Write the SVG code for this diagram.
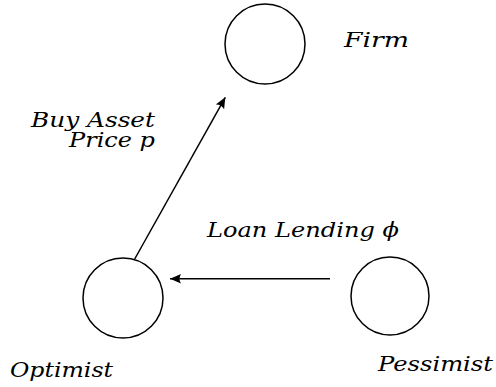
<svg xmlns="http://www.w3.org/2000/svg" width="496" height="387" viewBox="0 0 496 387">
<defs>
<marker id="arr" markerUnits="userSpaceOnUse" markerWidth="14" markerHeight="12" viewBox="-12 -6 14 12" refX="0" refY="0" orient="auto">
<path d="M0,0 L-11,-4.8 Q-8,0 -11,4.8 Z" fill="#000"/>
</marker>
</defs>
<rect width="496" height="387" fill="#fff"/>
<g font-family="DejaVu Serif, serif" font-style="italic" font-size="21" fill="#000">
<g id="firm">
<circle cx="265" cy="44" r="40" fill="none" stroke="#000" stroke-width="1.5"/>
<text x="344" y="47" textLength="65" lengthAdjust="spacingAndGlyphs">Firm</text>
</g>
<g id="optimist">
<circle cx="123" cy="298" r="40" fill="none" stroke="#000" stroke-width="1.5"/>
<text x="10" y="376.5" textLength="103" lengthAdjust="spacingAndGlyphs">Optimist</text>
</g>
<g id="pessimist">
<circle cx="390" cy="296" r="39" fill="none" stroke="#000" stroke-width="1.5"/>
<text x="378" y="371" textLength="115" lengthAdjust="spacingAndGlyphs">Pessimist</text>
</g>
<g id="connectors">
<line x1="134.7" y1="259" x2="225.3" y2="97.3" stroke="#000" stroke-width="1.5" marker-end="url(#arr)"/>
<line x1="330" y1="278.7" x2="170" y2="278.7" stroke="#000" stroke-width="1.5" marker-end="url(#arr)"/>
<text x="31" y="126.5" textLength="124" lengthAdjust="spacingAndGlyphs">Buy Asset</text>
<text x="69" y="146.5" textLength="86" lengthAdjust="spacingAndGlyphs">Price p</text>
<text x="207" y="237" textLength="192" lengthAdjust="spacingAndGlyphs">Loan Lending ϕ</text>
</g>
</g>
</svg>
